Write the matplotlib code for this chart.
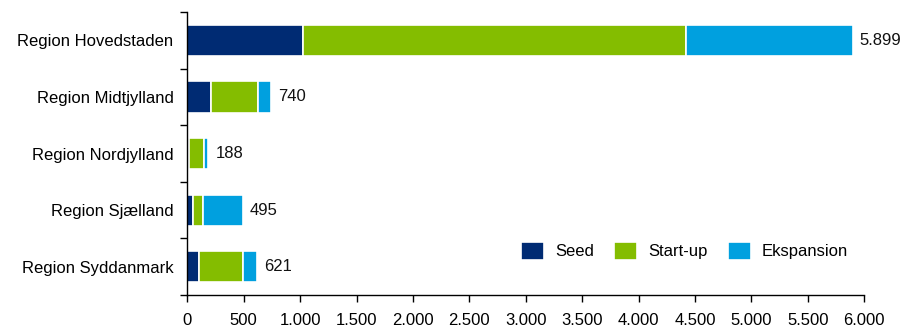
import matplotlib
matplotlib.use("Agg")
import matplotlib.pyplot as plt
from matplotlib.ticker import FuncFormatter, FixedLocator
import numpy as np

plt.rcParams['font.family'] = ['Liberation Sans', 'DejaVu Sans']

regions = ["Region Hovedstaden", "Region Midtjylland", "Region Nordjylland",
           "Region Sjælland", "Region Syddanmark"]
seed = [1025, 210, 12, 53, 100]
startup = [3395, 420, 135, 89, 394]
ekspansion = [1479, 110, 41, 353, 127]
totals = [5899, 740, 188, 495, 621]

colors = {"Seed": "#002B73", "Start-up": "#84BD00", "Ekspansion": "#00A0DF"}
fs = 12

fig = plt.figure(figsize=(9.06, 3.27), dpi=100)
ax = fig.add_axes([0.2067, 0.098, 0.7472, 0.865])

y = np.arange(len(regions))
h = 0.55
left = np.zeros(len(regions))
for name, vals in [("Seed", seed), ("Start-up", startup), ("Ekspansion", ekspansion)]:
    ax.barh(y, vals, left=left, height=h, color=colors[name], label=name,
            edgecolor="white", linewidth=1.2)
    left += np.array(vals)

def fmt(v, pos=None):
    return f"{int(v):,}".replace(",", ".")

for yi, t in zip(y, totals):
    ax.annotate(fmt(t), (t, yi), xytext=(5, 0), textcoords="offset points",
                va="center", ha="left", fontsize=fs, color="#111111")

ax.set_xlim(0, 6000)
ax.set_ylim(len(regions) - 0.5, -0.5)
ax.xaxis.set_major_locator(FixedLocator(np.arange(0, 6001, 500)))
ax.xaxis.set_major_formatter(FuncFormatter(fmt))
ax.set_yticks(y)
ax.set_yticklabels(regions)
ax.set_yticks(np.arange(-0.5, len(regions), 1), minor=True)
ax.tick_params(axis="y", which="major", length=0, pad=10, labelsize=fs)
ax.tick_params(axis="y", which="minor", length=5, width=1, direction="out")
ax.tick_params(axis="x", length=5, width=1, direction="out", labelsize=fs, pad=8)

for s in ["top", "right"]:
    ax.spines[s].set_visible(False)
for s in ["left", "bottom"]:
    ax.spines[s].set_linewidth(1)
    ax.spines[s].set_color("black")

ax.legend(loc="center right", bbox_to_anchor=(0.976, 0.156), ncol=3, frameon=False,
          fontsize=fs, handlelength=1.38, handleheight=1.28, columnspacing=1.2,
          handletextpad=0.66, borderpad=0, borderaxespad=0)

fig.savefig("out.png", dpi=100)
